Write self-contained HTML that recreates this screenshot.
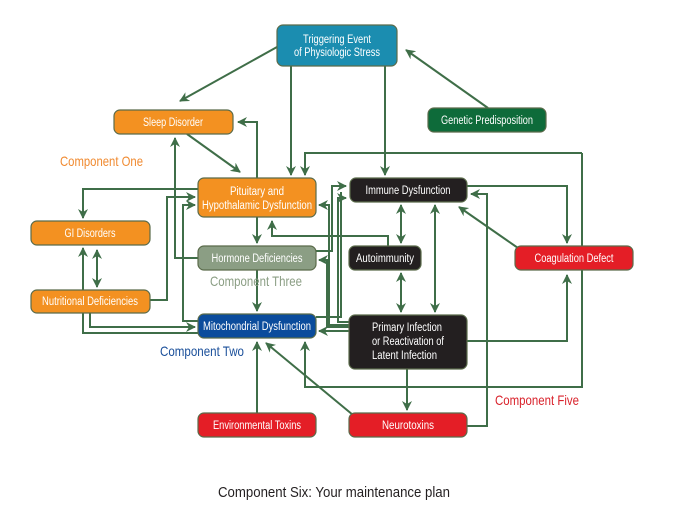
<!DOCTYPE html>
<html><head><meta charset="utf-8"><style>
html,body{margin:0;padding:0;background:#fff;}
svg{display:block;font-family:"Liberation Sans Narrow","Liberation Sans",sans-serif;}
.bx{stroke:#5a6b4a;stroke-width:1.2;}
.t{fill:#fff;font-size:11.5px;text-anchor:middle;}
.l{fill:none;stroke:#3f6e48;stroke-width:2;}
</style></head><body>
<svg width="673" height="506" viewBox="0 0 673 506">
<defs>
<marker id="a" viewBox="0 0 10 10" refX="9" refY="5" markerWidth="5" markerHeight="5" orient="auto-start-reverse"><path d="M0,0 L10,5 L0,10 L3,5 z" fill="#3f6e48"/></marker>
</defs>
<g class="l" marker-end="url(#a)">
<path d="M277,47 L180,101"/>
<path d="M291,66 L291,175"/>
<path d="M385,66 L385,175"/>
<path d="M488,108 L406,50"/>
<path d="M187,134 L240,172"/>
<path d="M257,178 L257,122 L238,122"/>
<path d="M582,153 L305,153 L305,175"/>
<path d="M582,153 L582,387 L305,387 L305,342"/>
<path d="M198,189 L83,189 L83,218"/>
<path d="M150,300 L167,300 L167,197 L195,197"/>
<path d="M198,258 L175,258 L175,138"/>
<path d="M198,321 L183,321 L183,205 L195,205"/>
<path d="M257,217 L257,243"/>
<path d="M257,270 L257,311"/>
<path d="M90,313 L90,327 L195,327"/>
<path d="M83,313 L83,333 L198,333" marker-end="none"/>
<path d="M83,290 L83,248"/>
<path d="M97,250 L97,287" marker-start="url(#a)"/>
<path d="M388,246 L388,236 L272,236 L272,221"/>
<path d="M401,205 L401,243" marker-start="url(#a)"/>
<path d="M401,273 L401,312" marker-start="url(#a)"/>
<path d="M435,205 L435,312" marker-start="url(#a)"/>
<path d="M467,186 L567,186 L567,243"/>
<path d="M518,248 L459,207"/>
<path d="M467,341 L567,341 L567,275"/>
<path d="M407,369 L407,410"/>
<path d="M467,426 L487,426 L487,194 L471,194"/>
<path d="M353,415 L266,343"/>
<path d="M257,413 L257,342"/>
<path d="M316,251 L332,251 L332,186 L346,186"/>
<path d="M349,322 L338,322 L338,198 L346,198"/>
<path d="M349,325 L329,325 L329,205 L319,205"/>
<path d="M349,327 L327,327 L327,260 L319,260"/>
<path d="M349,331 L319,331"/>
<path d="M316,317 L341,317 L341,192" marker-end="none"/>
</g>
<rect class="bx" x="277" y="25" width="120" height="41" rx="6" fill="#1b8db0"/>
<text class="t" x="337" y="43" textLength="68" lengthAdjust="spacingAndGlyphs">Triggering Event</text>
<text class="t" x="337" y="56" textLength="86" lengthAdjust="spacingAndGlyphs">of Physiologic Stress</text>
<rect class="bx" x="114" y="110" width="119" height="24" rx="6" fill="#f39121"/>
<text class="t" x="173" y="126" textLength="60" lengthAdjust="spacingAndGlyphs">Sleep Disorder</text>
<rect class="bx" x="428" y="108" width="118" height="24" rx="6" fill="#0e6b3a"/>
<text class="t" x="487" y="124" textLength="92" lengthAdjust="spacingAndGlyphs">Genetic Predisposition</text>
<rect class="bx" x="198" y="178" width="118" height="39" rx="6" fill="#f39121"/>
<text class="t" x="257" y="195" textLength="54" lengthAdjust="spacingAndGlyphs">Pituitary and</text>
<text class="t" x="257" y="209" textLength="110" lengthAdjust="spacingAndGlyphs">Hypothalamic  Dysfunction</text>
<rect class="bx" x="350" y="178" width="117" height="24" rx="6" fill="#231f20"/>
<text class="t" x="408" y="194" textLength="85" lengthAdjust="spacingAndGlyphs">Immune Dysfunction</text>
<rect class="bx" x="31" y="221" width="119" height="24" rx="6" fill="#f39121"/>
<text class="t" x="90" y="237" textLength="51" lengthAdjust="spacingAndGlyphs">GI Disorders</text>
<rect class="bx" x="198" y="246" width="118" height="24" rx="6" fill="#8b9e84"/>
<text class="t" x="257" y="262" textLength="91" lengthAdjust="spacingAndGlyphs">Hormone Deficiencies</text>
<rect class="bx" x="349" y="246" width="72" height="24" rx="6" fill="#231f20"/>
<text class="t" x="385" y="262" textLength="58" lengthAdjust="spacingAndGlyphs">Autoimmunity</text>
<rect class="bx" x="515" y="246" width="118" height="24" rx="6" fill="#e41e26"/>
<text class="t" x="574" y="262" textLength="79" lengthAdjust="spacingAndGlyphs">Coagulation Defect</text>
<rect class="bx" x="31" y="290" width="119" height="23" rx="6" fill="#f39121"/>
<text class="t" x="90" y="305" textLength="96" lengthAdjust="spacingAndGlyphs">Nutritional Deficiencies</text>
<rect class="bx" x="198" y="314" width="118" height="24" rx="6" fill="#0b4c9c"/>
<text class="t" x="257" y="330" textLength="108" lengthAdjust="spacingAndGlyphs">Mitochondrial Dysfunction</text>
<rect class="bx" x="349" y="315" width="118" height="54" rx="6" fill="#231f20"/>
<text class="t" x="372" y="331" style="text-anchor:start" textLength="70" lengthAdjust="spacingAndGlyphs">Primary Infection</text>
<text class="t" x="372" y="345" style="text-anchor:start" textLength="72" lengthAdjust="spacingAndGlyphs">or Reactivation of</text>
<text class="t" x="372" y="359" style="text-anchor:start" textLength="65" lengthAdjust="spacingAndGlyphs">Latent Infection</text>
<rect class="bx" x="198" y="413" width="118" height="24" rx="6" fill="#e41e26"/>
<text class="t" x="257" y="429" textLength="88" lengthAdjust="spacingAndGlyphs">Environmental Toxins</text>
<rect class="bx" x="349" y="413" width="118" height="24" rx="6" fill="#e41e26"/>
<text class="t" x="408" y="429" textLength="52" lengthAdjust="spacingAndGlyphs">Neurotoxins</text>
<text x="60" y="166" font-size="14" fill="#f08a30" textLength="83" lengthAdjust="spacingAndGlyphs">Component One</text>
<text x="210" y="286" font-size="14" fill="#8b9e84" textLength="92" lengthAdjust="spacingAndGlyphs">Component Three</text>
<text x="160" y="356" font-size="14" fill="#1a4f9a" textLength="84" lengthAdjust="spacingAndGlyphs">Component Two</text>
<text x="495" y="405" font-size="14" fill="#d9232c" textLength="84" lengthAdjust="spacingAndGlyphs">Component Five</text>
<text x="218" y="497" font-size="15" fill="#231f20" textLength="232" lengthAdjust="spacingAndGlyphs">Component Six: Your maintenance plan</text>
</svg>
</body></html>
